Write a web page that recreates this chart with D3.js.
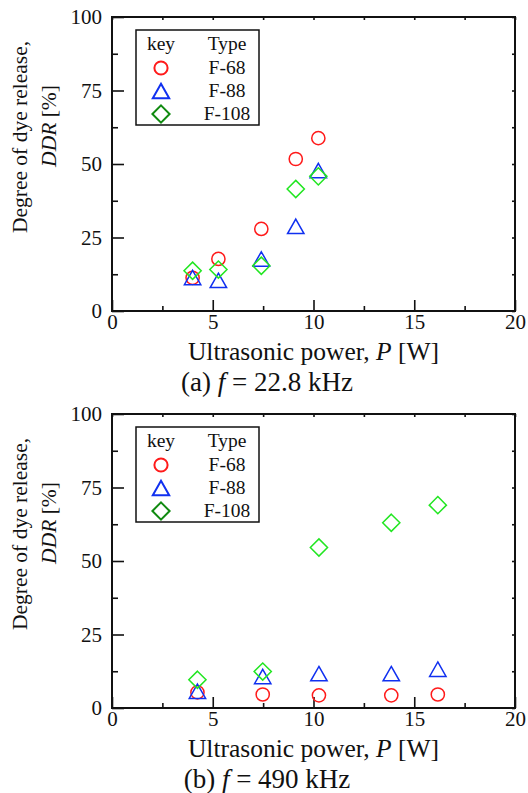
<!DOCTYPE html>
<html>
<head>
<meta charset="utf-8">
<script src="https://cdn.jsdelivr.net/npm/d3@7"></script>
<style>
  body { margin: 0; background: #fff; }
  text { font-family: "Liberation Serif", "Times New Roman", serif; fill: #111; }
</style>
</head>
<body>
<div id="painting"></div>
<script>
// values
var types = ["F-68", "F-88", "F-108"];
var xTicks = [0, 5, 10, 15, 20];
var yTicks = [0, 25, 50, 75, 100];

// (a) 22.8 kHz
var powerA = [4.0, 5.28, 7.41, 9.12, 10.24];
var f68A = [11.3, 17.7, 27.9, 51.7, 58.8];
var f88A = [11.4, 10.4, 17.7, 28.8, 47.8];
var f108A = [13.7, 14.1, 15.4, 41.5, 45.8];

// (b) 490 kHz
var powerB = [4.24, 7.48, 10.27, 13.86, 16.17];
var f68B = [5.3, 4.6, 4.3, 4.3, 4.6];
var f88B = [5.7, 10.7, 11.7, 11.7, 13.2];
var f108B = [9.6, 12.4, 54.6, 63.0, 69.0];

var panels = [
  {top: 17, caption: "(a) ", freq: " = 22.8 kHz", power: powerA, series: [f68A, f88A, f108A]},
  {top: 414, caption: "(b) ", freq: " = 490 kHz", power: powerB, series: [f68B, f88B, f108B]}
];

var dataColours = ["#ff1a1a", "#1030f0", "#22e622"];
var keyColours = ["#ff1a1a", "#1030f0", "#108a10"];

// marker shapes
var circleSym = {draw: function(c, s) { c.moveTo(6.6, 0); c.arc(0, 0, 6.6, 0, 2 * Math.PI); }};
var triSym = {draw: function(c, s) { c.moveTo(0, -7.2); c.lineTo(8.2, 7.2); c.lineTo(-8.2, 7.2); c.closePath(); }};
var diaSym = {draw: function(c, s) { c.moveTo(0, -8.6); c.lineTo(8.6, 0); c.lineTo(0, 8.6); c.lineTo(-8.6, 0); c.closePath(); }};
var shapes = [circleSym, triSym, diaSym];

var svg = d3.select("#painting").append("svg")
  .attr("width", 528).attr("height", 793);

var plotW = 403, plotH = 294;

panels.forEach(function(p) {
  var g = svg.append("g").attr("transform", "translate(112," + p.top + ")");

  var x = d3.scaleLinear().domain([0, 20]).range([0, plotW]);
  var y = d3.scaleLinear().domain([0, 100]).range([plotH, 0]);

  var minorX = d3.range(2.5, 20, 5);
  var minorY = d3.range(12.5, 100, 25);

  // inward ticks
  g.append("g").attr("transform", "translate(0," + plotH + ")")
    .call(d3.axisBottom(x).tickValues(xTicks).tickSize(-11).tickPadding(3).tickSizeOuter(0))
    .call(function(a) { a.selectAll("text").attr("font-size", 21).attr("dy", "0.71em"); });
  g.append("g").attr("transform", "translate(0," + plotH + ")")
    .call(d3.axisBottom(x).tickValues(minorX).tickSize(-5).tickFormat("").tickSizeOuter(0));
  g.append("g")
    .call(d3.axisLeft(y).tickValues(yTicks).tickSize(-12).tickPadding(10).tickSizeOuter(0))
    .call(function(a) { a.selectAll("text").attr("font-size", 21); });
  g.append("g")
    .call(d3.axisLeft(y).tickValues(minorY).tickSize(-6).tickFormat("").tickSizeOuter(0));
  // small mirrored ticks on top and right
  g.append("g")
    .call(d3.axisTop(x).tickValues(xTicks.concat(minorX)).tickSize(-3).tickFormat("").tickSizeOuter(0));
  g.append("g").attr("transform", "translate(" + plotW + ",0)")
    .call(d3.axisRight(y).tickValues(yTicks.concat(minorY)).tickSize(-3).tickFormat("").tickSizeOuter(0));

  g.selectAll(".domain").remove();
  g.selectAll(".tick line").attr("stroke", "#111").attr("stroke-width", 1.6);
  g.selectAll(".tick text").attr("fill", "#111").attr("font-family", "Liberation Serif");

  g.append("rect")
    .attr("x", 0).attr("y", 0).attr("width", plotW).attr("height", plotH)
    .attr("fill", "none").attr("stroke", "#111").attr("stroke-width", 2);

  // data
  p.series.forEach(function(vals, k) {
    g.selectAll(".m" + k)
      .data(vals)
      .enter()
      .append("path")
      .attr("d", d3.symbol().type(shapes[k]))
      .attr("transform", function(d, i) { return "translate(" + x(p.power[i]) + "," + y(d) + ")"; })
      .attr("fill", "none")
      .attr("stroke", dataColours[k])
      .attr("stroke-width", 1.5);
  });

  // legend
  var lg = g.append("g").attr("transform", "translate(24,13)");
  lg.append("rect").attr("width", 123).attr("height", 95)
    .attr("fill", "#fff").attr("stroke", "#111").attr("stroke-width", 1.5);
  lg.append("text").attr("x", 25).attr("y", 20).attr("text-anchor", "middle")
    .attr("font-size", 19.5).text("key");
  lg.append("text").attr("x", 91).attr("y", 20).attr("text-anchor", "middle")
    .attr("font-size", 19.5).text("Type");
  types.forEach(function(t, k) {
    var ry = 38 + k * 23;
    lg.append("path").attr("d", d3.symbol().type(shapes[k]))
      .attr("transform", "translate(25," + ry + ")")
      .attr("fill", "none").attr("stroke", keyColours[k]).attr("stroke-width", 2);
    lg.append("text").attr("x", 91).attr("y", ry + 6).attr("text-anchor", "middle")
      .attr("font-size", 19.5).text(t);
  });

  // axis titles
  var xl = g.append("text").attr("x", plotW / 2).attr("y", plotH + 49)
    .attr("text-anchor", "middle").attr("font-size", 25.5);
  xl.append("tspan").text("Ultrasonic power, ");
  xl.append("tspan").attr("font-style", "italic").text("P");
  xl.append("tspan").text(" [W]");

  var yl = g.append("g").attr("transform", "translate(-85," + 120 + ") rotate(-90)");
  yl.append("text").attr("x", 0).attr("y", 0).attr("text-anchor", "middle")
    .attr("font-size", 21.5).text("Degree of dye release,");
  var l2 = yl.append("text").attr("x", 11).attr("y", 29).attr("text-anchor", "middle")
    .attr("font-size", 21.5);
  l2.append("tspan").attr("font-style", "italic").text("DDR");
  l2.append("tspan").text(" [%]");

  // caption
  var cap = svg.append("text").attr("x", 267).attr("y", p.top + 374)
    .attr("text-anchor", "middle").attr("font-size", 27);
  cap.append("tspan").text(p.caption);
  cap.append("tspan").attr("font-style", "italic").text("f");
  cap.append("tspan").text(p.freq);
});
</script>
</body>
</html>
